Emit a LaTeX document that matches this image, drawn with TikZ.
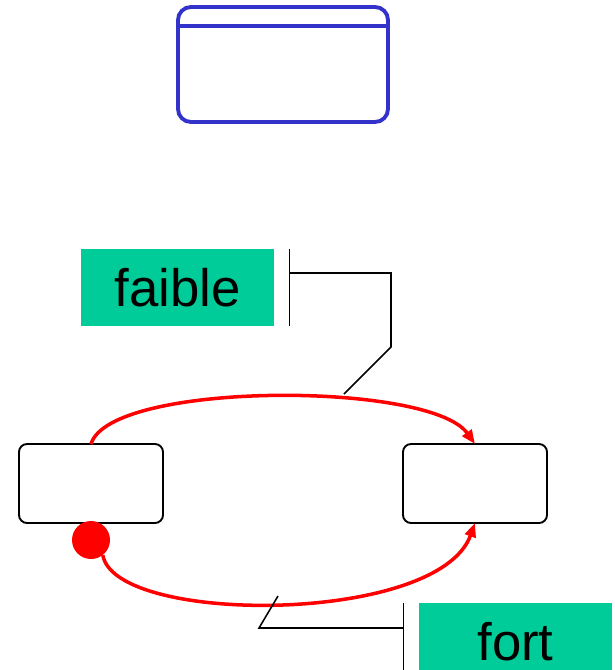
\documentclass[tikz,border=0pt]{standalone}
\usepackage{fontspec}
\setmainfont{Liberation Sans}
\usetikzlibrary{arrows.meta}
\definecolor{bleuetat}{RGB}{51,51,204}
\definecolor{vertgarde}{RGB}{0,204,153}
\tikzset{>={Triangle[length=0.42cm,width=0.33cm]}}
\tikzset{etat/.style={draw,outer sep=0pt,line width=1.6pt,rounded corners=0.24cm,
                      minimum width=4.32cm,minimum height=2.37cm},
         garde/.style={fill=vertgarde,outer sep=0pt,minimum width=5.79cm,
                       minimum height=2.31cm,font=\fontsize{45}{54}\selectfont},
         trans/.style={draw=red,line width=3pt,->},
         lien/.style={line width=1.3pt}}

\begin{document}
\begin{tikzpicture}[x=0.03cm,y=0.03cm]
\clip (0,0) rectangle (614,-670);
% boite bleue
\node[draw=bleuetat,outer sep=0pt,line width=3.3pt,rounded corners=0.39cm,
      minimum width=6.3cm,minimum height=3.45cm] (bleu) at (283,-64.5) {};
\draw[bleuetat,line width=3.3pt] ([yshift=-0.57cm]bleu.north west) -- ([yshift=-0.57cm]bleu.north east);
% etats
\node[etat] (gauche) at (91,-483.5) {};
\node[etat] (droite) at (475,-483.5) {};
\node[circle,fill=red,minimum size=1.14cm,inner sep=0pt] (init) at (91,-540) {};
% transitions
\draw[trans] (gauche.north) .. controls +(19,63) and +(-45,63) .. (droite.north);
\draw[trans] (init.-52) .. controls +(12,-70) and +(-37,-102) .. (droite.south);
% gardes
\node[garde] (faible) at (177.5,-287.5) {faible};
\node[garde] (fort) at (515.5,-641.5) {fort};
\coordinate (faibleCoude) at (391,-347);
\coordinate (faibleBout) at (344,-394);
\coordinate (fortBout) at (278,-596);
\coordinate (fortCoude) at (259,-628);
\draw[lien] ([xshift=0.47cm]faible.north east) -- ([xshift=0.47cm]faible.south east);
\draw[lien] ([xshift=0.47cm,yshift=-0.72cm]faible.north east) -| (faibleCoude) -- (faibleBout);
\draw[lien] ([xshift=-0.47cm]fort.north west) -- ([xshift=-0.47cm]fort.south west);
\draw[lien] (fortBout) -- (fortCoude) -- ([xshift=-0.47cm,yshift=-0.75cm]fort.north west);
\end{tikzpicture}
\end{document}
